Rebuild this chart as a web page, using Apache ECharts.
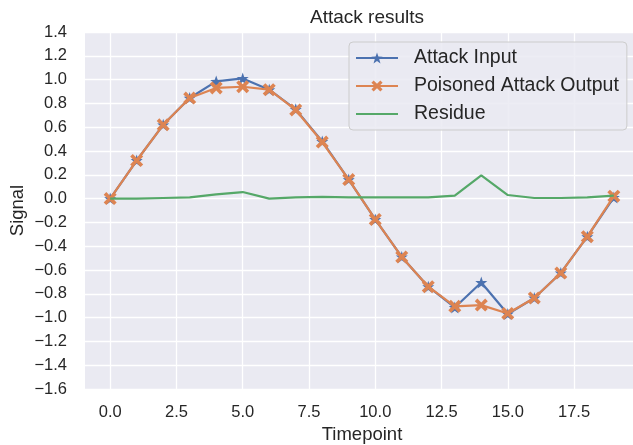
<!DOCTYPE html>
<html><head><meta charset="utf-8">
<script src="https://cdn.jsdelivr.net/npm/echarts@6/dist/echarts.min.js"></script>
<style>html,body{margin:0;padding:0;background:#fff}#c{width:633px;height:445px}</style>
</head><body><div id="c"></div>
<script>
const timepoints = [0,1,2,3,4,5,6,7,8,9,10,11,12,13,14,15,16,17,18,19];
const attackInput = [0.0,0.32,0.62,0.845,0.985,1.01,0.915,0.75,0.48,0.16,-0.175,-0.49,-0.74,-0.915,-0.705,-0.97,-0.835,-0.625,-0.32,0.01];
const poisonedOutput = [0.0,0.32,0.62,0.845,0.93,0.94,0.915,0.745,0.475,0.16,-0.175,-0.49,-0.74,-0.905,-0.895,-0.965,-0.835,-0.625,-0.32,0.02];
const residue = [0.0,0.0,0.005,0.01,0.035,0.055,0.0,0.01,0.015,0.01,0.01,0.01,0.01,0.025,0.195,0.03,0.005,0.005,0.01,0.025];
const xTickLabels = [0,2.5,5,7.5,10,12.5,15,17.5];
const yTickLabels = [1.4,1.2,1.0,0.8,0.6,0.4,0.2,0.0,-0.2,-0.4,-0.6,-0.8,-1.0,-1.2,-1.4,-1.6];

const starPath = 'path://M50,0 L61.76,33.82 L97.55,34.55 L69.02,56.18 L79.39,90.45 L50,70 L20.61,90.45 L30.98,56.18 L2.45,34.55 L38.24,33.82 Z';
const xPath = 'path://M20,0 L50,30 L80,0 L100,20 L70,50 L100,80 L80,100 L50,70 L20,100 L0,80 L30,50 L0,20 Z';
const linePath = 'path://M0,0 L42,0 L42,2.2 L0,2.2 Z';
const txt = '#262626';
const font = 'Liberation Sans, Arial, sans-serif';
const pair = a => timepoints.map((t,i)=>[t,a[i]]);
const fmtY = v => { const r = Math.round(v*10)/10; return (r<0?'\u2212':'') + Math.abs(r).toFixed(1); };

const chart = echarts.init(document.getElementById('c'), null, {renderer:'canvas'});
chart.setOption({
  animation:false,
  backgroundColor:'#ffffff',
  title:{text:'Attack results', left:362, textAlign:'center', top:3,
    textStyle:{fontSize:19, fontWeight:'normal', color:txt, fontFamily:font}},
  grid:{left:85, top:32, width:554, height:357, containLabel:false, outerBoundsMode:'none',
    show:true, backgroundColor:'#EAEAF2', borderWidth:0},
  xAxis:{type:'value', min:-0.95, max:19.95,
    name:'Timepoint', nameLocation:'middle', nameGap:36, nameMoveOverlap:false,
    nameTextStyle:{fontSize:18.5, color:txt, fontFamily:font},
    axisLine:{show:false},
    axisTick:{show:false, customValues:xTickLabels},
    axisLabel:{customValues:xTickLabels, margin:15, fontSize:16.5, color:txt, fontFamily:font,
      formatter:v=>Number(v).toFixed(1)},
    splitLine:{show:true, lineStyle:{color:'#ffffff', width:1.3}}},
  yAxis:{type:'value', min:-1.6, max:1.4, interval:0.2,
    name:'Signal', nameLocation:'middle', nameGap:58, nameRotate:90, nameMoveOverlap:false,
    nameTextStyle:{fontSize:18.5, color:txt, fontFamily:font},
    axisLine:{show:false}, axisTick:{show:false},
    axisLabel:{margin:18, fontSize:16.5, color:txt, fontFamily:font, formatter:fmtY},
    splitLine:{show:true, lineStyle:{color:'#ffffff', width:1.3}}},
  legend:{orient:'vertical', left:349, top:42, padding:[6,8,6,6],
    itemWidth:42, itemHeight:14, itemGap:8,
    backgroundColor:'rgba(234,234,242,0.85)', borderColor:'#cccccc', borderWidth:1, borderRadius:4,
    textStyle:{fontSize:19.5, color:txt, fontFamily:font, padding:[0,0,0,11]},
    data:['Attack Input','Poisoned Attack Output',{name:'Residue', icon:linePath}]},
  series:[
    {name:'Attack Input', type:'line', data:pair(attackInput), symbol:starPath, symbolSize:12,
      showAllSymbol:true, lineStyle:{color:'#4C72B0', width:2.2}, itemStyle:{color:'#4C72B0'}, z:2},
    {name:'Poisoned Attack Output', type:'line', data:pair(poisonedOutput), symbol:xPath, symbolSize:13,
      showAllSymbol:true, lineStyle:{color:'#DD8452', width:2.2}, itemStyle:{color:'#DD8452'}, z:3},
    {name:'Residue', type:'line', data:pair(residue), symbol:'none', showSymbol:false,
      lineStyle:{color:'#55A868', width:2.2}, itemStyle:{color:'#55A868'}, z:4}
  ]
});
</script></body></html>
